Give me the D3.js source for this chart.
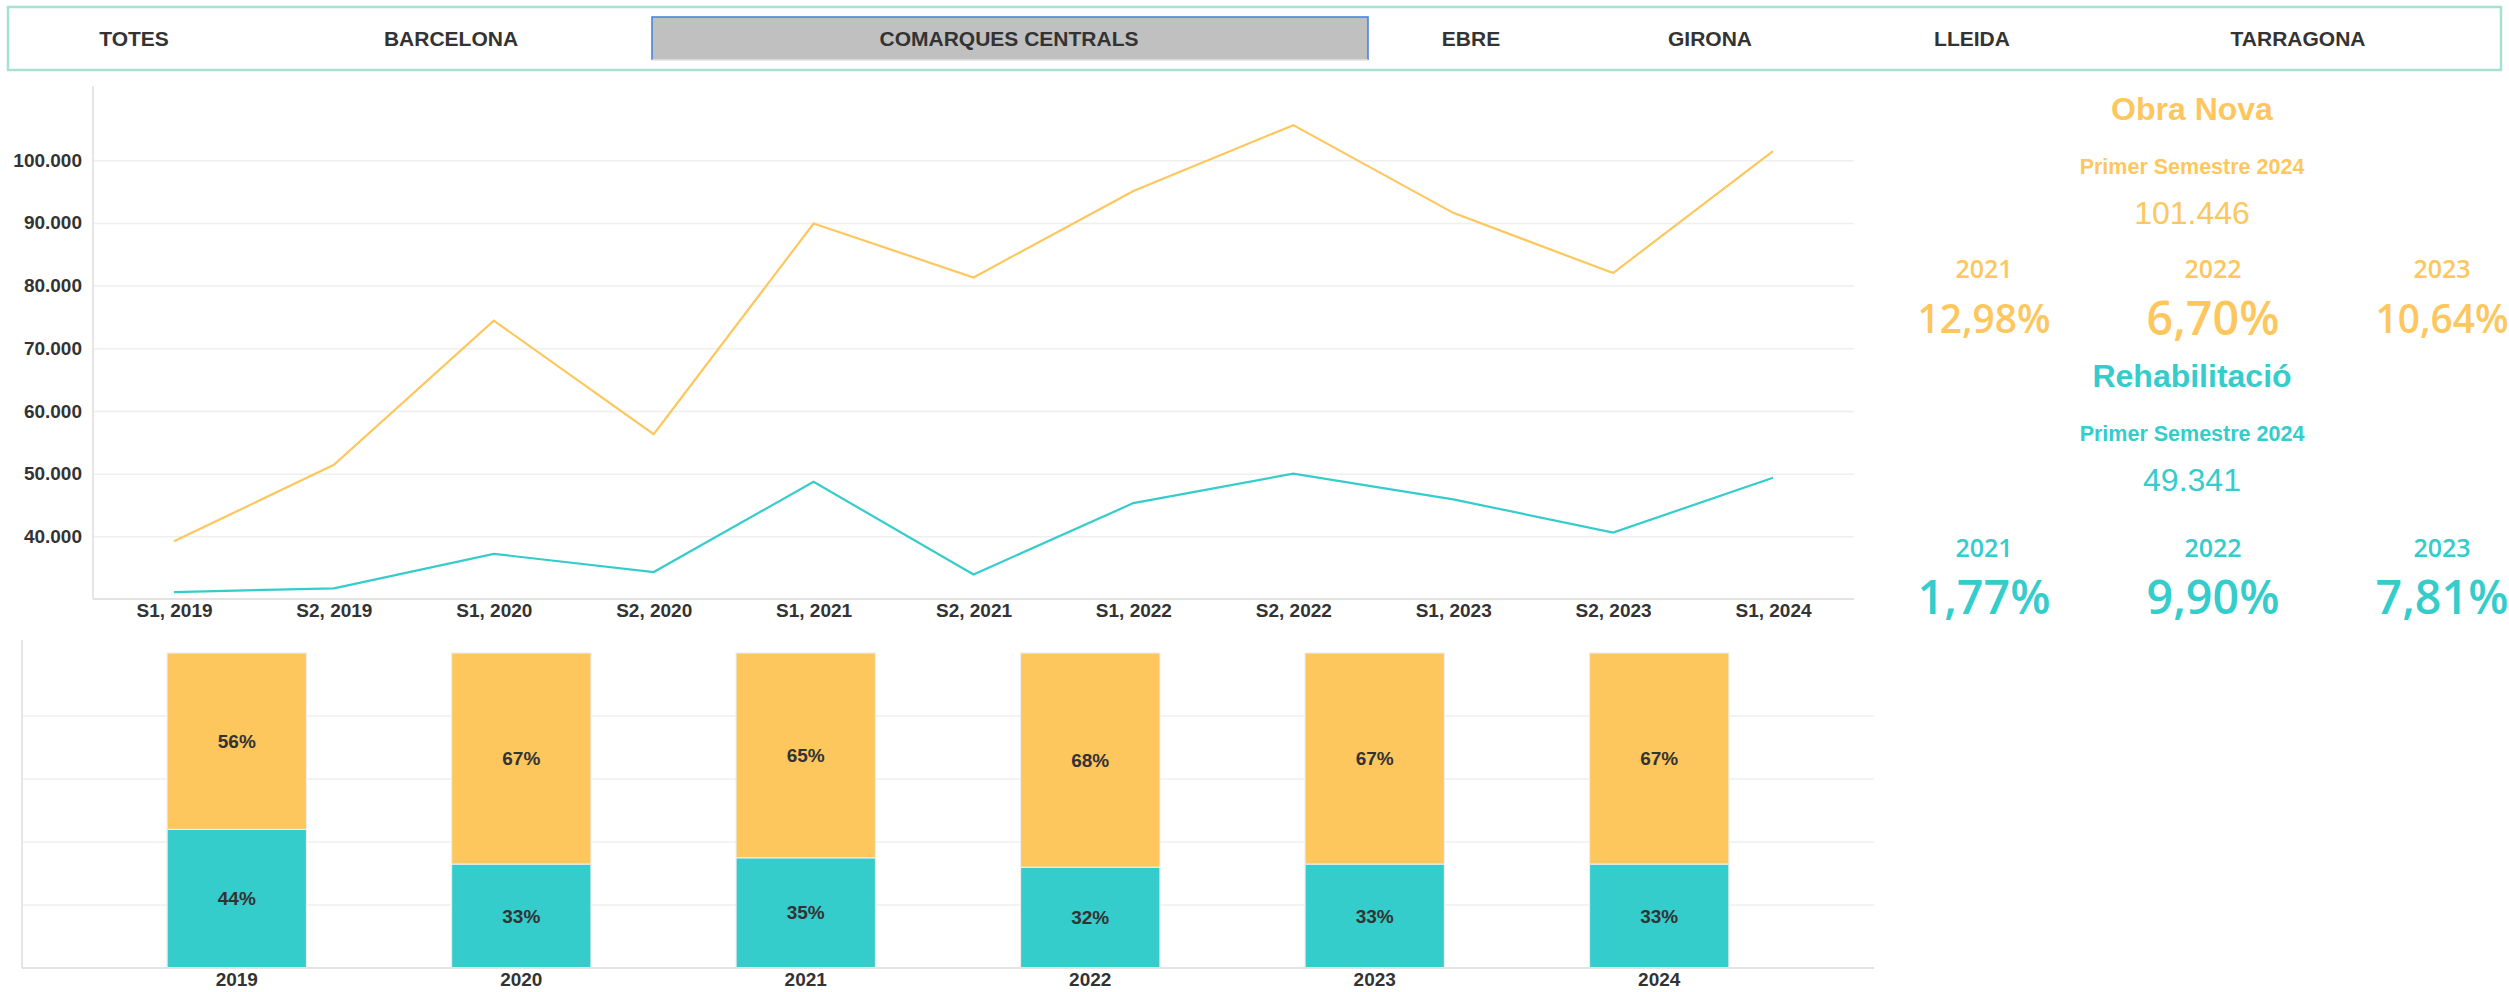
<!DOCTYPE html>
<html>
<head>
<meta charset="utf-8">
<script src="https://cdn.jsdelivr.net/npm/d3@7"></script>
<style>
body{margin:0;background:#fff;overflow:hidden}
text{font-family:"Liberation Sans",Arial,sans-serif}
</style>
</head>
<body>
<svg id="chart" width="2509" height="992"></svg>
<script>
// tabs along the top
var tabs = ["TOTES", "BARCELONA", "COMARQUES CENTRALS", "EBRE", "GIRONA", "LLEIDA", "TARRAGONA"];
var selectedTab = "COMARQUES CENTRALS";

// line chart (per semester)
var periods = ["S1, 2019", "S2, 2019", "S1, 2020", "S2, 2020", "S1, 2021", "S2, 2021",
               "S1, 2022", "S2, 2022", "S1, 2023", "S2, 2023", "S1, 2024"];
var obraNova = [39200, 51400, 74400, 56300, 89900, 81300, 95100, 105600, 91600, 82000, 101446];
var rehab    = [31100, 31700, 37200, 34300, 48700, 33900, 45300, 50000, 45900, 40600, 49341];
var yTicks = [40000, 50000, 60000, 70000, 80000, 90000, 100000];

// 100% stacked bars (per year)
var years = ["2019", "2020", "2021", "2022", "2023", "2024"];
var rehabShare = [44, 33, 35, 32, 33, 33];
var obraShare  = [56, 67, 65, 68, 67, 67];
var shareTicks = [20, 40, 60, 80];

// KPI cards
var kpiYears = ["2021", "2022", "2023"];
var obraLast = 101446;
var rehabLast = 49341;
var obraGrowth = [12.98, 6.70, 10.64];
var rehabGrowth = [1.77, 9.90, 7.81];

var yellow = "#FDC75E", teal = "#35CCCC", ink = "#333";

var loc = d3.formatLocale({decimal: ",", thousands: ".", grouping: [3], currency: ["", "€"]});
var fmtNum = loc.format(",d");
var fmtPct = function(v){ return loc.format(".2f")(v) + "%"; };

var svg = d3.select("#chart");

// ---- header tabs ----
var tabX = [134, 451, 1009, 1471, 1710, 1972, 2298];  // layout only
svg.append("rect").attr("x", 8).attr("y", 7).attr("width", 2493).attr("height", 63)
   .attr("fill", "none").attr("stroke", "#A5E2D1").attr("stroke-width", 2.5);
svg.append("rect").attr("x", 652).attr("y", 17).attr("width", 716).attr("height", 43)
   .attr("fill", "#C0C0C0");
svg.append("path").attr("d", "M652,60V17H1368V60").attr("fill", "none")
   .attr("stroke", "#3F7FDB").attr("stroke-width", 1.5);
svg.append("line").attr("x1", 652).attr("x2", 1368).attr("y1", 60).attr("y2", 60)
   .attr("stroke", "#e2e2e2").attr("stroke-width", 1.5);
svg.append("g").selectAll("text").data(tabs).enter().append("text")
   .attr("x", function(d, i){ return tabX[i]; })
   .attr("y", 38)
   .attr("text-anchor", "middle").attr("dominant-baseline", "central")
   .style("font-size", "21px").style("font-weight", "bold").attr("fill", ink)
   .text(function(d){ return d; });

// ---- line chart ----
var x = d3.scalePoint().domain(periods).range([174, 1773]);
var y = d3.scaleLinear().domain([30000, 112000]).range([599, 85]);

var gy = svg.append("g").attr("transform", "translate(93,0)")
   .call(d3.axisLeft(y).tickValues(yTicks).tickFormat(fmtNum).tickSize(-1761).tickPadding(11));
gy.select(".domain").remove();
gy.selectAll("line").attr("stroke", "#efefef").attr("stroke-width", 1.5);
gy.selectAll("text").style("font-size", "19px").style("font-weight", "bold")
  .style("font-family", "Liberation Sans, Arial").attr("fill", ink);

svg.append("line").attr("x1", 93).attr("x2", 93).attr("y1", 86).attr("y2", 599)
   .attr("stroke", "#e6e6e6").attr("stroke-width", 2);
svg.append("line").attr("x1", 93).attr("x2", 1854).attr("y1", 599).attr("y2", 599)
   .attr("stroke", "#e3e3e3").attr("stroke-width", 2);

var gx = svg.append("g").attr("transform", "translate(0,599)")
   .call(d3.axisBottom(x).tickSize(0).tickPadding(5));
gx.select(".domain").remove();
gx.selectAll("text").style("font-size", "19px").style("font-weight", "bold")
  .style("font-family", "Liberation Sans, Arial").attr("fill", ink);

var line = d3.line()
   .x(function(d, i){ return x(periods[i]); })
   .y(function(d){ return y(d); });
svg.append("path").datum(obraNova).attr("d", line)
   .attr("fill", "none").attr("stroke", yellow).attr("stroke-width", 2.2);
svg.append("path").datum(rehab).attr("d", line)
   .attr("fill", "none").attr("stroke", teal).attr("stroke-width", 2.2);

// ---- stacked 100% bars ----
var rows = years.map(function(yr, i){ return {year: yr, rehab: rehabShare[i], obra: obraShare[i]}; });
var stack = d3.stack().keys(["rehab", "obra"])(rows);

var xb = d3.scaleBand().domain(years).range([22, 1874]).paddingInner(0.51).paddingOuter(0.51);
var yb = d3.scaleLinear().domain([0, 100]).range([968, 653]);

svg.append("g").selectAll("line").data(shareTicks).enter().append("line")
   .attr("x1", 22).attr("x2", 1874)
   .attr("y1", function(d){ return yb(d); }).attr("y2", function(d){ return yb(d); })
   .attr("stroke", "#efefef").attr("stroke-width", 1.5);
svg.append("line").attr("x1", 22).attr("x2", 22).attr("y1", 640).attr("y2", 968)
   .attr("stroke", "#e6e6e6").attr("stroke-width", 2);

var colors = {rehab: teal, obra: yellow};
var layers = svg.append("g").selectAll("g").data(stack).enter().append("g")
   .attr("fill", function(d){ return colors[d.key]; });
layers.selectAll("rect").data(function(d){ return d; }).enter().append("rect")
   .attr("x", function(d){ return xb(d.data.year); })
   .attr("width", xb.bandwidth())
   .attr("y", function(d){ return yb(d[1]); })
   .attr("height", function(d){ return yb(d[0]) - yb(d[1]); })
   .attr("stroke", "#ececec").attr("stroke-width", 1.2);
layers.selectAll("text").data(function(d){ return d; }).enter().append("text")
   .attr("x", function(d){ return xb(d.data.year) + xb.bandwidth() / 2; })
   .attr("y", function(d){ return (yb(d[0]) + yb(d[1])) / 2; })
   .attr("text-anchor", "middle").attr("dominant-baseline", "central")
   .style("font-size", "19px").style("font-weight", "bold").attr("fill", ink)
   .text(function(d){ return (d[1] - d[0]) + "%"; });

svg.append("line").attr("x1", 22).attr("x2", 1874).attr("y1", 968).attr("y2", 968)
   .attr("stroke", "#e3e3e3").attr("stroke-width", 2);
var gxb = svg.append("g").attr("transform", "translate(0,968)")
   .call(d3.axisBottom(xb).tickSize(0).tickPadding(5));
gxb.select(".domain").remove();
gxb.selectAll("text").style("font-size", "19px").style("font-weight", "bold")
   .style("font-family", "Liberation Sans, Arial").attr("fill", ink);

// ---- KPI panel ----
var kx = d3.scalePoint().domain(kpiYears).range([1984, 2442]);
var cx = 2192;

function card(title, color, total, growth, top, pctY){
  var g = svg.append("g").attr("fill", color);
  g.append("text").attr("x", cx).attr("y", top)
   .attr("text-anchor", "middle").attr("dominant-baseline", "central")
   .style("font-size", "32px").style("font-weight", "bold").text(title);
  g.append("text").attr("x", cx).attr("y", top + 58)
   .attr("text-anchor", "middle").attr("dominant-baseline", "central")
   .style("font-size", "21.5px").style("font-weight", "bold").text("Primer Semestre 2024");
  g.append("text").attr("x", cx).attr("y", top + 104)
   .attr("text-anchor", "middle").attr("dominant-baseline", "central")
   .style("font-size", "32px").text(fmtNum(total));
  g.selectAll(".yr").data(kpiYears).enter().append("text")
   .attr("x", function(d){ return kx(d); }).attr("y", pctY - 49)
   .attr("text-anchor", "middle").attr("dominant-baseline", "central")
   .style("font-family", "Open Sans").style("font-weight", 600).style("font-size", "25px")
   .text(function(d){ return d; });
  g.selectAll(".pc").data(growth).enter().append("text")
   .attr("x", function(d, i){ return kx(kpiYears[i]); }).attr("y", pctY)
   .attr("text-anchor", "middle").attr("dominant-baseline", "central")
   .style("font-family", "Open Sans").style("font-weight", 600).style("font-size", "40px")
   .text(function(d){ return fmtPct(d); })
   .each(function(){
     // auto-fit like the report card visual
     var w = this.getComputedTextLength();
     d3.select(this).style("font-size", (40 * 133 / w) + "px");
   });
}
card("Obra Nova", yellow, obraLast, obraGrowth, 109, 317);
card("Rehabilitació", teal, rehabLast, rehabGrowth, 376, 596);
</script>
</body>
</html>
